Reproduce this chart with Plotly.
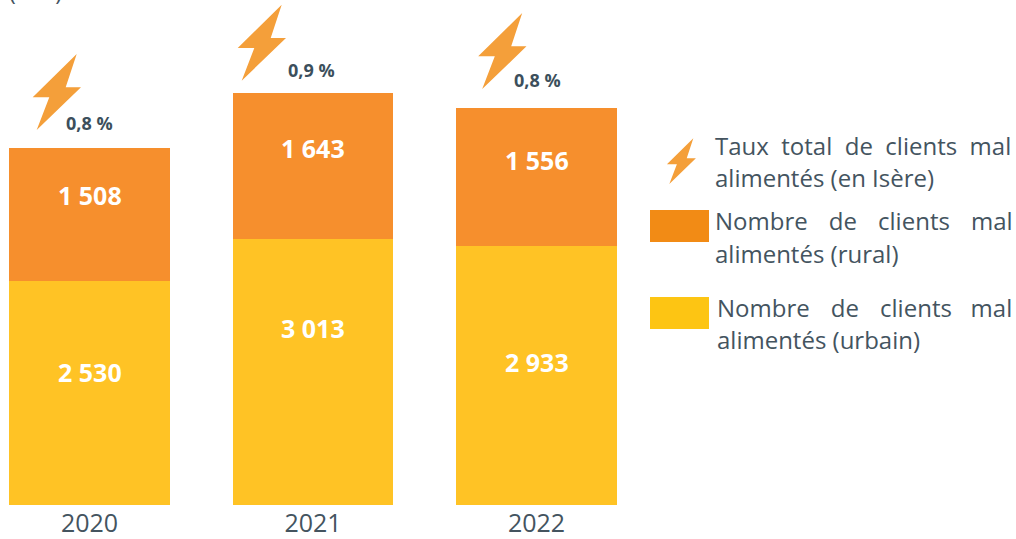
import plotly.graph_objects as go

years = ["2020", "2021", "2022"]
urbain = [2530, 3013, 2933]
rural = [1508, 1643, 1556]
taux = ["0,8 %", "0,9 %", "0,8 %"]
legend_labels = [
    ["Taux\u00a0\u00a0total\u00a0\u00a0de\u00a0\u00a0clients\u00a0\u00a0mal", "alimentés (en Isère)"],
    ["Nombre\u00a0\u00a0\u00a0\u200ade\u00a0\u00a0\u00a0\u200aclients\u00a0\u00a0\u00a0\u200amal", "alimentés (rural)"],
    ["Nombre\u00a0\u00a0\u00a0\u200ade\u00a0\u00a0\u00a0\u200aclients\u00a0\u00a0\u00a0mal", "alimentés (urbain)"],
]


def fmt(v):
    return f"{v:,}".replace(",", " ")


W, H, PLOT_H = 1016, 539, 505
ORANGE, YELLOW = "#F68F2D", "#FFC325"
BOLT = "#F49F3A"
TEXT = "#44545F"
FONT = "Open Sans"


def px(x):
    return x / W


def py(y):
    return 1 - y / PLOT_H


def bolt(dx, dy, s=1.0):
    pts = [(76.7, 54), (65.7, 87.3), (81, 87.3), (36.7, 130), (49.3, 97.3), (32.7, 97.3)]
    d = ""
    for i, (x, y) in enumerate(pts):
        d += ("M" if i == 0 else "L") + f"{px(x * s + dx):.5f},{py(y * s + dy):.5f} "
    return dict(type="path", xref="paper", yref="paper", path=d + "Z",
                fillcolor=BOLT, line=dict(width=0), layer="above")


fig = go.Figure()
common = dict(x=years, width=0.72, hoverinfo="skip", showlegend=False)
fig.add_bar(y=urbain, name="urbain", marker=dict(color=YELLOW, line_width=0), **common)
fig.add_bar(y=rural, name="rural", marker=dict(color=ORANGE, line_width=0), **common)

shapes = [bolt(0, 0), bolt(205, -49.3), bolt(445.5, -41), bolt(647.3, 105.9, 0.6)]
for (y0, y1, c) in [(210, 242, "#F28B15"), (297, 329, "#FDC513")]:
    shapes.append(dict(type="rect", xref="paper", yref="paper", x0=px(650), x1=px(709),
                       y0=py(y1), y1=py(y0), fillcolor=c, line=dict(width=0)))

annots = []


def note(text, x, y, size, color=TEXT, bold=False, anchor="left"):
    annots.append(dict(text=text, xref="paper", yref="paper", x=px(x), y=py(y),
                       xanchor=anchor, yanchor="middle", showarrow=False,
                       font=dict(family=FONT, size=size, color=color,
                                 weight=700 if bold else 400),
                       borderpad=0))


for label, (x, y) in zip(taux, [(89, 123), (311, 70), (537, 80)]):
    note(label, x, y, 18, "#3C4F5C", True, "center")
for lines, (x, y0, y1) in zip(legend_labels, [(714, 145, 177), (714, 221, 253), (716, 307, 339)]):
    note(lines[0], x, y0, 24)
    note(lines[1], x, y1, 24)
note("(000)", 8, -9, 23)
for vals, ys in [(rural, [195, 148, 160]), (urbain, [372, 328, 362])]:
    for v, y, x in zip(vals, ys, [89.5, 312.5, 536.5]):
        note(fmt(v), x, y, 25, "white", True, "center")

fig.update_layout(
    width=W, height=H, autosize=False, barmode="stack", bargap=0,
    margin=dict(l=0, r=0, t=0, b=34),
    paper_bgcolor="white", plot_bgcolor="white",
    xaxis=dict(type="category", range=[-0.4004, 4.145], showgrid=False, showline=False,
               ticks="", zeroline=False, ticklen=0, ticklabelstandoff=1, automargin=False,
               tickfont=dict(family=FONT, size=25, color=TEXT)),
    yaxis=dict(range=[0, 5713], visible=False, showgrid=False, zeroline=False),
    shapes=shapes, annotations=annots,
)
fig.write_html("out.html", config=dict(displayModeBar=False),
               post_script="document.body.style.margin='0';document.body.style.overflow='hidden';")
